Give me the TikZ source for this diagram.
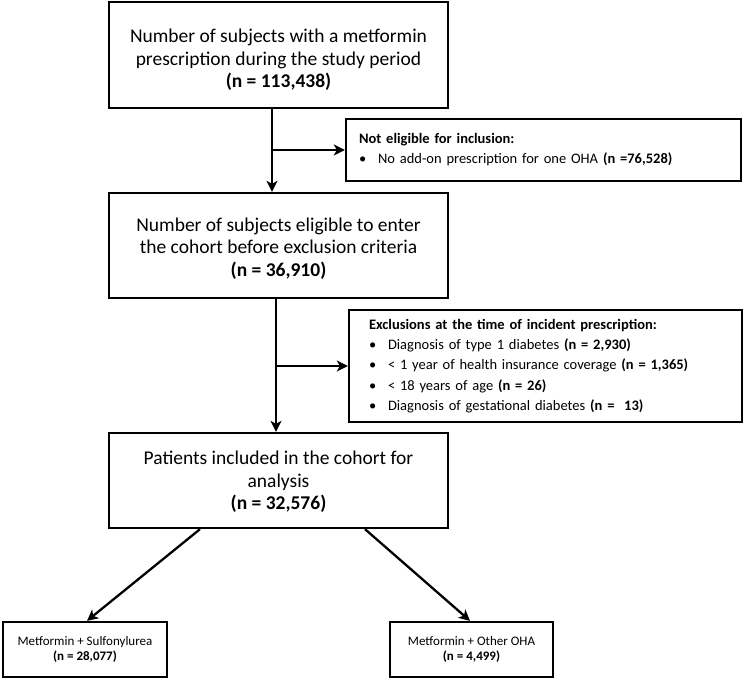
\documentclass[tikz,border=0pt]{standalone}
\usepackage{fontspec}
\setmainfont{Carlito}
\usetikzlibrary{arrows.meta,calc}
\tikzset{
  box/.style={draw=black, line width=2.3pt, rectangle, inner sep=0pt, align=center},
  bigtext/.style={font=\fontsize{19.5}{22.5}\selectfont, align=center, inner sep=0pt},
  listbox/.style={draw=black, line width=2.3pt, rectangle, inner ysep=0pt, align=left},
  smalltext/.style={font=\fontsize{13}{15}\selectfont},
  arr/.style={line width=2.3pt, -{Stealth[length=11pt,width=11pt,inset=3pt]}},
}
\newcommand{\bitem}[1]{\makebox[19pt][l]{•}#1}
\begin{document}
\begin{tikzpicture}[x=1pt,y=-1pt]
\useasboundingbox (0,0) rectangle (746,687);
\fill[white] (0,0) rectangle (746,687);

\node[box,minimum width=339pt,minimum height=106pt] (b1) at (278.5,55) {};
\node[bigtext] (b1t) at ([yshift=-5pt]b1.center)
  {Number of subjects with a metformin\\prescription during the study period\\\textbf{(n = 113,438)}};

\node[listbox,inner xsep=13pt,text width=369pt,minimum width=395pt,minimum height=62pt,
  font=\fontsize{14.5}{20}\selectfont] (ne) at (543.5,150)
  {\textbf{Not eligible for inclusion:}\\\bitem{No add-on prescription for one OHA \textbf{(n =76,528)}}};

\node[box,minimum width=339pt,minimum height=105pt] (b2) at (278.5,245.5) {};
\node[bigtext] (b2t) at ([yshift=-3pt]b2.center)
  {Number of subjects eligible to enter\\the cohort before exclusion criteria\\\textbf{(n = 36,910)}};

\node[listbox,inner xsep=20pt,text width=353pt,minimum width=393pt,minimum height=112pt,
  font=\fontsize{14.5}{20.3}\selectfont] (ex) at (545.5,366)
  {\textbf{Exclusions at the time of incident prescription:}\\
   \bitem{Diagnosis of type 1 diabetes \textbf{(n = 2,930)}}\\
   \bitem{< 1 year of health insurance coverage \textbf{(n = 1,365)}}\\
   \bitem{< 18 years of age \textbf{(n = 26)}}\\
   \bitem{Diagnosis of gestational diabetes \textbf{(n = \ 13)}}};

\node[box,minimum width=339pt,minimum height=95pt] (b3) at (278.5,480.5) {};
\node[bigtext] (b3t) at ([yshift=-1.5pt]b3.center)
  {Patients included in the cohort for\\analysis\\\textbf{(n = 32,576)}};

\node[box,smalltext,minimum width=164pt,minimum height=55pt] (l) at (85,649.5)
  {Metformin + Sulfonylurea\\\textbf{(n = 28,077)}};
\node[box,smalltext,minimum width=163pt,minimum height=55pt] (r) at (471.5,649.5)
  {Metformin + Other OHA\\\textbf{(n = 4,499)}};

\coordinate (s1) at ([xshift=-6.5pt]b1.south);
\draw[arr] (s1) -- (s1 |- b2.north);
\draw[arr] (s1 |- ne.west) -- (ne.west);

\coordinate (s2) at ([xshift=-2.5pt]b2.south);
\draw[arr] (s2) -- (s2 |- b3.north);
\draw[arr] (s2 |- ex.west) -- (ex.west);

\draw[arr] ([xshift=-78.5pt]b3.south) -- ([xshift=2pt]l.north);
\draw[arr] ([xshift=86.5pt]b3.south) -- ([xshift=-1.5pt]r.north);
\end{tikzpicture}
\end{document}
